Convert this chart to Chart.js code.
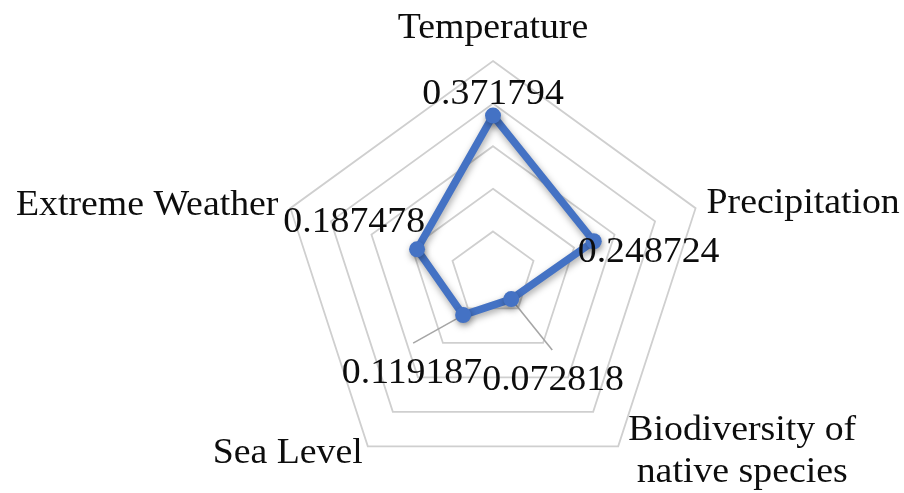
<!DOCTYPE html>
<html>
<head>
<meta charset="utf-8">
<script src="https://cdn.jsdelivr.net/npm/chart.js@4.4.1/dist/chart.umd.min.js"></script>
<style>
  html, body { margin: 0; padding: 0; background: #ffffff; }
  #wrap { position: relative; width: 904px; height: 493px; }
</style>
</head>
<body>
<div id="wrap"><canvas id="radar"></canvas></div>
<script>
// Axis categories (multi-line where the label wraps)
const categories = [
  ['Temperature'],
  ['Precipitation'],
  ['Biodiversity of', 'native species'],
  ['Sea Level'],
  ['Extreme Weather']
];

// Weight of each factor
const values = [0.371794, 0.248724, 0.072818, 0.119187, 0.187478];

// Radial scale range
const scaleMin = 0;
const scaleMax = 0.5;
const scaleStep = 0.1;

const FONT = '35px "Liberation Serif", "Times New Roman", serif';
const STRETCH = 1.08;   // slightly wide serif lettering
const LINE_COLOR = '#4472C4';

function drawText(ctx, str, x, y, align) {
  ctx.save();
  ctx.translate(x, y);
  ctx.scale(STRETCH, 1);
  ctx.textAlign = align;
  ctx.textBaseline = 'alphabetic';
  ctx.fillText(str, 0, 0);
  ctx.restore();
}

// Placement of the category names around the outer ring
const catPlacement = [
  { dx: 0,   dy: -23, align: 'center' },
  { dx: 11,  dy: 5,   align: 'left' },
  { dx: 124, dy: -6,  align: 'center' },
  { dx: -5,  dy: 17,  align: 'right' },
  { dx: -12, dy: 7,   align: 'right' }
];

// Placement of the value labels relative to their points
const valPlacement = [
  { dx: 0,   dy: -11.6, align: 'center' },
  { dx: -16, dy: 21,    align: 'left' },
  { dx: -29, dy: 91,    align: 'left',  leader: [41, 51] },
  { dx: 19,  dy: 68,    align: 'right', leader: [-50, 28] },
  { dx: 8,   dy: -17,   align: 'right' }
];

const radarLabels = {
  id: 'radarLabels',
  beforeDatasetsDraw(chart) {
    const ctx = chart.ctx;
    const scale = chart.scales.r;
    // leader lines for the labels pulled away from their points
    ctx.save();
    ctx.strokeStyle = '#a6a6a6';
    ctx.lineWidth = 1.6;
    values.forEach((v, i) => {
      const p = valPlacement[i];
      if (!p.leader) return;
      const pt = scale.getPointPositionForValue(i, v);
      ctx.beginPath();
      ctx.moveTo(pt.x, pt.y);
      ctx.lineTo(pt.x + p.leader[0], pt.y + p.leader[1]);
      ctx.stroke();
    });
    ctx.restore();
    // soft drop shadow under the series line
    ctx.save();
    ctx.shadowColor = 'rgba(0,0,0,0.35)';
    ctx.shadowBlur = 7;
    ctx.shadowOffsetX = 1;
    ctx.shadowOffsetY = 3;
  },
  afterDatasetsDraw(chart) {
    chart.ctx.restore();
  },
  afterDraw(chart) {
    const ctx = chart.ctx;
    const scale = chart.scales.r;
    ctx.save();
    ctx.fillStyle = '#0d0d0d';
    ctx.font = FONT;
    // category names
    categories.forEach((lines, i) => {
      const v = scale.getPointPosition(i, scale.drawingArea);
      const p = catPlacement[i];
      lines.forEach((line, k) => {
        drawText(ctx, line, v.x + p.dx, v.y + p.dy + k * 42, p.align);
      });
    });
    // value labels
    values.forEach((val, i) => {
      const pt = scale.getPointPositionForValue(i, val);
      const p = valPlacement[i];
      drawText(ctx, String(val), pt.x + p.dx, pt.y + p.dy, p.align);
    });
    ctx.restore();
  }
};

new Chart(document.getElementById('radar'), {
  type: 'radar',
  data: {
    labels: categories,
    datasets: [{
      data: values,
      borderColor: LINE_COLOR,
      backgroundColor: LINE_COLOR,
      borderWidth: 7.5,
      borderJoinStyle: 'round',
      fill: false,
      pointRadius: 8,
      pointBorderWidth: 0,
      pointBackgroundColor: LINE_COLOR,
      pointBorderColor: LINE_COLOR,
      tension: 0
    }]
  },
  options: {
    responsive: true,
    maintainAspectRatio: false,
    devicePixelRatio: 1,
    animation: false,
    layout: { padding: { left: 280, right: 198, top: 61, bottom: 6 } },
    plugins: {
      legend: { display: false },
      tooltip: { enabled: false }
    },
    scales: {
      r: {
        min: scaleMin,
        max: scaleMax,
        ticks: { stepSize: scaleStep, display: false },
        grid: { color: '#cfcfcf', lineWidth: 1.8, circular: false },
        angleLines: { display: false },
        pointLabels: { display: false }
      }
    }
  },
  plugins: [radarLabels]
});
</script>
</body>
</html>
